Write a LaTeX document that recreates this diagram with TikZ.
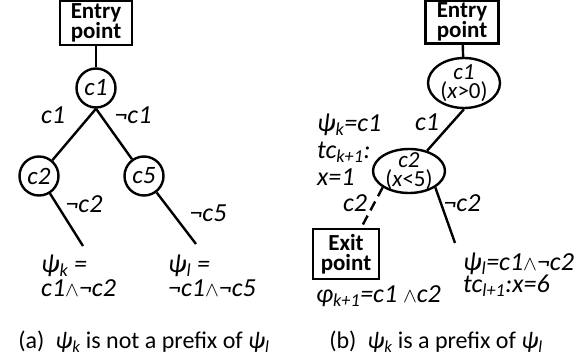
\documentclass[tikz,border=0pt]{standalone}
\usepackage{fontspec}
\setmainfont{Carlito}
\usetikzlibrary{shapes.geometric, positioning}

\newcommand{\andop}{{\fontsize{20}{20}\selectfont$\wedge$}}

\tikzset{
  cond/.style={circle, draw, line width=2.4pt, minimum size=39pt, inner sep=0pt,
    font=\fontsize{25}{25}\selectfont\itshape},
  condell/.style={ellipse, draw, line width=2.4pt, inner xsep=0pt, inner ysep=-4pt,
    align=center, font=\fontsize{23}{19}\selectfont},
  pointbox/.style={draw, line width=2.4pt, inner sep=0pt, align=center,
    font=\fontsize{23}{20}\selectfont\bfseries},
  branch/.style={line width=2.4pt},
  lab/.style={inner sep=0pt, font=\fontsize{26}{24}\selectfont\itshape},
  subcap/.style={inner sep=0pt, font=\fontsize{24}{24}\selectfont},
}

\begin{document}
\begin{tikzpicture}[x=1pt, y=-1pt]
  \useasboundingbox (0,0) rectangle (578,362);

  % (a) psi_k ist kein Praefix
  \begin{scope}
    \node[pointbox, minimum width=72pt, minimum height=44pt] (entA) at (96,23) {Entry\\point};
    \node[cond] (c1A) at (96,88) {c1};
    \node[cond] (c2A) at (39,176) {c2};
    \node[cond] (c5A) at (144,176) {c5};
    \coordinate (endA2) at (83,246);
    \coordinate (endA5) at (196,244);
    \draw[branch] (entA) -- (c1A);
    \draw[branch] (c1A.south) -- (c2A);
    \draw[branch] (c1A.south) -- (c5A);
    \draw[branch] (c2A) -- (endA2);
    \draw[branch] (c5A) -- (endA5);
    \node[lab] (lc1A) at (53,115) {c1};
    \node[lab] (lnc1A) at (133,115) {¬c1};
    \node[lab] (lnc2A) at (84,204) {¬c2};
    \node[lab] (lnc5A) at (208,213) {¬c5};
    \node[lab, align=left, anchor=north west] (psikA) at (41,255)
      {ψ\textsubscript{k} =\\c1\andop¬c2};
    \node[lab, align=left, anchor=north west] (psilA) at (168,255)
      {ψ\textsubscript{l} =\\¬c1\andop¬c5};
    \node[subcap] (capA) at (144,342)
      {(a)\ \ \textit{ψ\textsubscript{k}} is not a prefix of \textit{ψ\textsubscript{l}}};
  \end{scope}

  % (b) psi_k ist Praefix
  \begin{scope}[xshift=290pt]
    \node[pointbox, minimum width=73pt, minimum height=43pt] (entB) at (172,22) {Entry\\point};
    \node[condell, minimum width=72pt, minimum height=50pt] (c1B) at (174,83)
      {\textit{c1}\\(\textit{x}>0)};
    \node[condell, minimum width=72pt, minimum height=44pt] (c2B) at (119,171)
      {\textit{c2}\\(\textit{x}<5)};
    \node[pointbox, minimum width=66pt, minimum height=50pt] (exB) at (56,254) {Exit\\point};
    \coordinate (endB) at (165,243);
    \draw[branch] (entB) -- (c1B);
    \draw[branch] (c1B.south) -- (c2B);
    \draw[branch, dash pattern=on 10pt off 6pt] (c2B.south west) -- (exB.60);
    \draw[branch] (c2B.south east) -- (endB);
    \node[lab] (lc1B) at (137,122) {c1};
    \node[lab] (lc2B) at (65,203) {c2};
    \node[lab] (lnc2B) at (172,203) {¬c2};
    \node[lab, align=left, anchor=north west, font=\fontsize{26}{27}\selectfont\itshape]
      (psikB) at (27,114) {ψ\textsubscript{k}=c1\\tc\textsubscript{k+1}:\\x=1};
    \node[lab, anchor=west] (phiB) at (26,296) {φ\textsubscript{k+1}=c1 \andop c2};
    \node[lab, align=left, anchor=north west, font=\fontsize{26}{22}\selectfont\itshape]
      (psilB) at (173,253) {ψ\textsubscript{l}=c1\andop¬c2\\tc\textsubscript{l+1}:x=6};
    \node[subcap] (capB) at (146,342)
      {(b)\ \ \textit{ψ\textsubscript{k}} is a prefix of \textit{ψ\textsubscript{l}}};
  \end{scope}
\end{tikzpicture}
\end{document}
